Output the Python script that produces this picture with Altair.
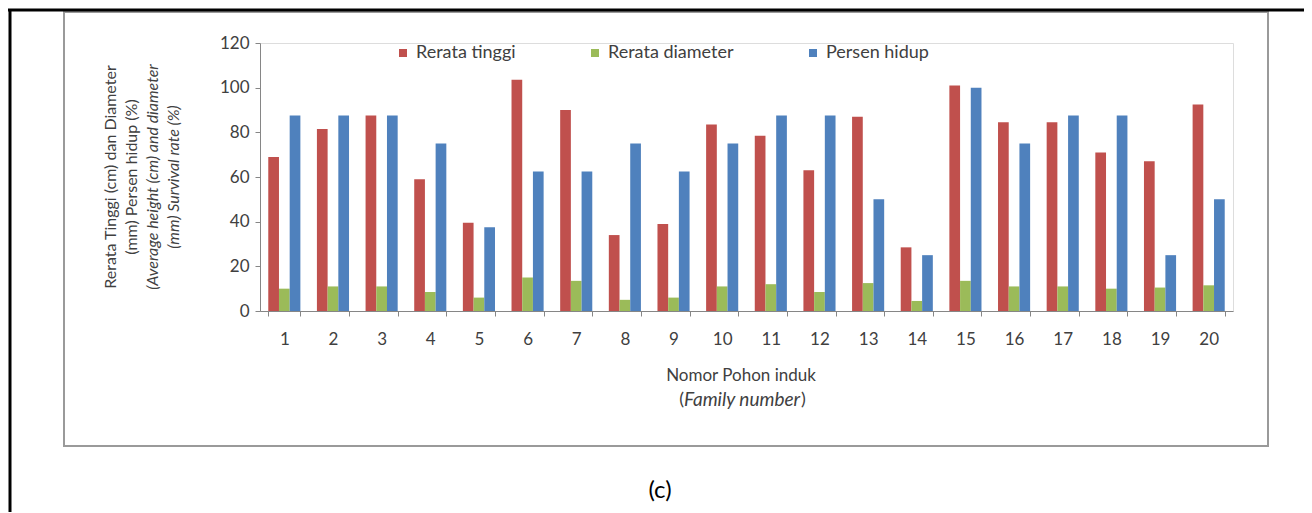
import altair as alt
import pandas as pd

families = [str(i) for i in range(1, 21)]
series_order = ["Rerata tinggi", "Rerata diameter", "Persen hidup"]
colors = ["#C0504D", "#9BBB59", "#4F81BD"]

rerata_tinggi = [69, 81.5, 87.5, 59, 39.5, 103.5, 90, 34, 39, 83.5, 78.5, 63, 87, 28.5, 101, 84.5, 84.5, 71, 67, 92.5]
rerata_diameter = [10, 11, 11, 8.5, 6, 15, 13.5, 5, 6, 11, 12, 8.5, 12.5, 4.5, 13.5, 11, 11, 10, 10.5, 11.5]
persen_hidup = [87.5, 87.5, 87.5, 75, 37.5, 62.5, 62.5, 75, 62.5, 75, 87.5, 87.5, 50, 25, 100, 75, 87.5, 87.5, 25, 50]

rows = []
for i, f in enumerate(families):
    rows.append({"family": f, "series": series_order[0], "value": rerata_tinggi[i]})
    rows.append({"family": f, "series": series_order[1], "value": rerata_diameter[i]})
    rows.append({"family": f, "series": series_order[2], "value": persen_hidup[i]})
df = pd.DataFrame(rows)

W, H = 973, 268
PL, PT = 252, 35
TOTAL_W, TOTAL_H = 1296, 504
FONT = "Lato"
TXT = "#404040"

bars = alt.Chart(df).mark_bar().encode(
    x=alt.X("family:N", sort=families,
            scale=alt.Scale(paddingInner=0.34, paddingOuter=0.17),
            axis=alt.Axis(title=None, labelAngle=0, tickBand="extent", tickSize=5,
                          labelPadding=15, labelFontSize=17, labelColor=TXT,
                          domainColor="#868686", tickColor="#868686", labelFont=FONT)),
    xOffset=alt.XOffset("series:N", sort=series_order, scale=alt.Scale(paddingInner=0, paddingOuter=0)),
    y=alt.Y("value:Q", scale=alt.Scale(domain=[0, 120], nice=False),
            axis=alt.Axis(title=None, values=[0, 20, 40, 60, 80, 100, 120], grid=False,
                          tickSize=5, labelPadding=6, labelFontSize=17, labelColor=TXT,
                          domainColor="#868686", tickColor="#868686", labelFont=FONT)),
    color=alt.Color("series:N", sort=series_order,
                    scale=alt.Scale(domain=series_order, range=colors),
                    legend=alt.Legend(title=None, orient="none", legendX=134, legendY=1,
                                      direction="horizontal", symbolType="square",
                                      symbolSize=64, symbolStrokeWidth=0, labelFontSize=18,
                                      labelFont=FONT, labelColor=TXT, columnPadding=70,
                                      labelOffset=4, padding=0)),
)

def txt(text, x, y, size=16, angle=0, italic=False, color=TXT, align="center"):
    kw = dict(text=text, fontSize=size, font=FONT, color=color, align=align, baseline="middle")
    if angle:
        kw["angle"] = angle
    if italic:
        kw["fontStyle"] = "italic"
    return alt.Chart().mark_text(**kw).encode(x=alt.value(x - PL - 8), y=alt.value(y - PT - 8))

ytitle = [
    txt("Rerata Tinggi (cm) dan Diameter", 111, 177, 16, 270),
    txt("(mm) Persen hidup (%)", 132, 177, 16, 270),
    txt("(Average height (cm) and diameter", 153, 177, 16, 270, italic=True),
    txt("(mm) Survival rate (%)", 174, 177, 16, 270, italic=True),
]
xtitle = [
    txt("Nomor Pohon induk", 741, 376, 17),
    txt("(", 684, 400, 18, align="right"),
    txt("Family number", 742, 400, 19, italic=True),
    txt(")", 801, 400, 18, align="left"),
]
caption = txt("(c)", 660, 491, 24, color="#000000")

inner_box = alt.Chart().mark_rect(fillOpacity=0, stroke="#9a9a9a", strokeWidth=2).encode(
    x=alt.value(64 - PL - 8), x2=alt.value(1268 - PL - 8),
    y=alt.value(12 - PT - 8), y2=alt.value(446 - PT - 8))
top_rule = alt.Chart().mark_rule(color="#000000", strokeWidth=3).encode(
    x=alt.value(8 - PL - 8), x2=alt.value(TOTAL_W - PL), y=alt.value(10 - PT - 8))
left_rule = alt.Chart().mark_rule(color="#000000", strokeWidth=3).encode(
    x=alt.value(10 - PL - 8), y=alt.value(10 - PT - 8), y2=alt.value(TOTAL_H - PT))

chart = alt.layer(inner_box, top_rule, left_rule, bars, *ytitle, *xtitle, caption).properties(
    width=W, height=H,
    autosize=alt.AutoSizeParams(type="none"),
    padding={"left": PL, "top": PT, "right": TOTAL_W - PL - W, "bottom": TOTAL_H - PT - H},
).configure_view(stroke=None).configure(background="#ffffff")

chart.save("out.html", embed_options={"renderer": "svg", "actions": False})
